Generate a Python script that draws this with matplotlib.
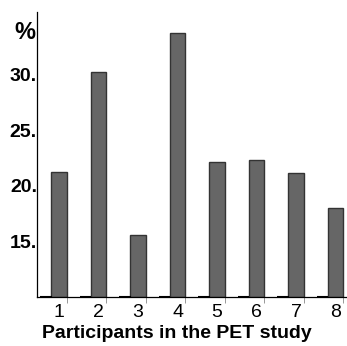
import numpy as np
import matplotlib
matplotlib.use("Agg")
import matplotlib.pyplot as plt

# values (percent)
participants = ["1", "2", "3", "4", "5", "6", "7", "8"]
percent = [21.2, 30.2, 15.6, 33.7, 22.1, 22.3, 21.1, 18.0]
y_ticks = [15, 20, 25, 30]
y_tick_labels = ["15.", "20.", "25.", "30."]
y_base = 10

plt.rcParams["font.family"] = ["Liberation Sans", "DejaVu Sans"]

fig = plt.figure(figsize=(3.47, 3.46), dpi=100)
ax = fig.add_axes([0.1066, 0.1416, 0.8934, 0.8234])

x = np.arange(len(participants))

# empty companion series -> short black dash on the baseline
ax.bar(x - 0.03, [0] * len(x), width=0.3, bottom=y_base,
       color="black", edgecolor="black", linewidth=1.5, zorder=3)
ax.bar(x + 0.3, np.array(percent) - y_base, width=0.4, bottom=y_base,
       color="#666666", edgecolor="#333333", linewidth=1.0, zorder=2)

ax.set_xlim(-0.26, 7.59)
ax.set_ylim(y_base, 35.6)

ax.set_xticks(x + 0.3)
ax.set_xticklabels(participants, fontsize=14)
ax.set_xticks(x + 0.5, minor=True)
ax.tick_params(axis="x", which="major", length=0, pad=5)
ax.tick_params(axis="x", which="minor", length=4, width=0.6, color="#888888")

ax.set_yticks(y_ticks)
ax.set_yticklabels(y_tick_labels, fontsize=14, fontweight="bold")
ax.tick_params(axis="y", length=0, pad=0)

for side in ["top", "right"]:
    ax.spines[side].set_visible(False)
ax.spines["left"].set_linewidth(0.9)
ax.spines["bottom"].set_linewidth(0.9)

ax.set_xlabel("Participants in the PET study", fontsize=14, fontweight="bold",
              family=["Liberation Sans Narrow", "Liberation Sans", "DejaVu Sans"])
ax.xaxis.set_label_coords(0.45, -0.1)

fig.text(0.073, 0.905, "%", fontsize=17, fontweight="bold", ha="center", va="center")

fig.savefig("out.png", dpi=100)
